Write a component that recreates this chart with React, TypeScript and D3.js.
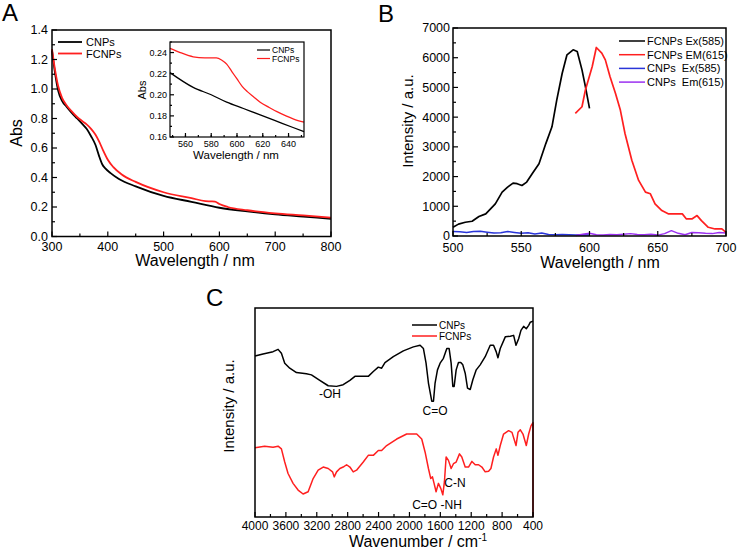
import React from 'react';
import * as d3 from 'd3';

const FONT = "'Liberation Sans', Arial, Helvetica, sans-serif";
const RED = '#ff1f1f';
const BLUE = '#2a35d8';
const PURPLE = '#9b30f0';

// ---------- Panel A: absorbance ----------
const absWlC = [300, 305, 311, 318, 326, 335, 345, 355, 362, 370, 378, 384, 390, 396, 405, 420, 450, 500, 550, 600, 650, 700, 750, 800];
const absCNPs = [1.26, 1.12, 0.99, 0.92, 0.88, 0.84, 0.8, 0.76, 0.73, 0.68, 0.62, 0.55, 0.49, 0.46, 0.43, 0.39, 0.34, 0.275, 0.235, 0.195, 0.17, 0.15, 0.135, 0.12];
const absWlF = [300, 305, 311, 318, 326, 335, 345, 355, 362, 370, 378, 385, 392, 400, 410, 425, 450, 500, 550, 575, 585, 592, 600, 615, 650, 700, 750, 800];
const absFCNPs = [1.27, 1.14, 1.02, 0.94, 0.89, 0.85, 0.81, 0.78, 0.76, 0.73, 0.69, 0.64, 0.58, 0.52, 0.47, 0.42, 0.37, 0.3, 0.26, 0.24, 0.238, 0.236, 0.22, 0.2, 0.178, 0.157, 0.143, 0.128];
const absXTicks = [300, 400, 500, 600, 700, 800];
const absYTicks = [0, 0.2, 0.4, 0.6, 0.8, 1.0, 1.2, 1.4];

// inset
const insWlC = [548, 566, 580, 592, 605, 618, 635, 652];
const insCNPs = [0.221, 0.207, 0.2, 0.193, 0.187, 0.181, 0.173, 0.165];
const insWlF = [548, 556, 566, 575, 584, 588, 592, 596, 600, 604, 608, 613, 618, 625, 631, 638, 644, 652];
const insFCNPs = [0.244, 0.24, 0.236, 0.235, 0.235, 0.233, 0.229, 0.222, 0.215, 0.208, 0.203, 0.198, 0.193, 0.188, 0.184, 0.18, 0.177, 0.174];
const insXTicks = [560, 580, 600, 620, 640];
const insYTicks = [0.16, 0.18, 0.2, 0.22, 0.24];

// ---------- Panel B: fluorescence ----------
const exWl = [500, 504, 509, 514, 519, 524, 531, 536, 540, 544, 547, 550.5, 554, 558, 563, 568, 572.5, 576, 580, 583.5, 588, 591, 594.5, 597, 600];
const exFCNPs = [293, 400, 462, 496, 654, 744, 1082, 1476, 1645, 1780, 1760, 1700, 1815, 2096, 2434, 3110, 3674, 4575, 5477, 6097, 6266, 6210, 5590, 5026, 4294];
const emWl = [589.6, 594.5, 597, 602, 605, 609, 611.6, 615, 619, 622.6, 626, 631, 636, 641, 644.6, 648, 653, 658, 663, 668, 671, 675, 678.8, 682, 687, 692, 697, 700];
const emFCNPs = [4125, 4350, 4914, 5703, 6345, 6153, 5928, 5365, 4801, 4238, 3449, 2547, 1871, 1476, 1420, 1082, 857, 744, 744, 744, 575, 575, 687, 518, 293, 237, 237, 124];
const exCWl = [500, 505, 510, 515, 520, 525, 530, 535, 540, 545, 550, 555, 560, 565, 570, 575, 580, 585, 590, 595, 600];
const exCNPs = [150, 140, 120, 150, 160, 130, 100, 110, 150, 120, 90, 110, 70, 100, 50, 40, 50, 40, 30, 40, 30];
const emCWl = [590, 595, 600, 605, 610, 615, 620, 625, 630, 635, 640, 645, 650, 655, 660, 665, 670, 675, 680, 685, 690, 695, 700];
const emCNPs = [20, 60, 90, 40, 30, 50, 40, 60, 80, 50, 40, 60, 30, 80, 180, 90, 40, 120, 110, 90, 80, 120, 100];
const flXTicks = [500, 550, 600, 650, 700];
const flYTicks = [0, 1000, 2000, 3000, 4000, 5000, 6000, 7000];
const flLegend = ['FCNPs Ex(585)', 'FCNPs EM(615)', 'CNPs  Ex(585)', 'CNPs  Em(615)'];

// ---------- Panel C: FTIR ----------
const irWnC = [4000, 3896, 3766, 3701, 3658, 3615, 3550, 3463, 3334, 3269, 3161, 3052, 2944, 2858, 2771, 2706, 2598, 2533, 2468, 2403, 2360, 2317, 2209, 2079, 1949, 1862, 1819, 1785, 1754, 1711, 1689, 1668, 1637, 1603, 1560, 1516, 1486, 1460, 1438, 1421, 1395, 1365, 1335, 1309, 1278, 1248, 1213, 1179, 1135, 1084, 1019, 954, 911, 876, 854, 824, 759, 694, 651, 620, 586, 556, 521, 487, 456, 435, 400];
const irCNPs = [77.0, 78.0, 79.1, 80.2, 78.3, 73.6, 71.2, 69.1, 68.5, 68.0, 65.4, 62.8, 62.5, 63.3, 65.4, 67.3, 67.3, 67.3, 69.6, 71.7, 71.2, 73.9, 76.7, 79.5, 81.4, 82.2, 80.6, 73.6, 64.1, 55.4, 55.4, 64.1, 70.4, 73.6, 75.9, 80.6, 80.6, 73.6, 62.5, 62.5, 70.4, 73.9, 73.9, 72.8, 68.8, 61.7, 61.0, 65.7, 70.4, 72.8, 76.7, 82.2, 82.2, 79.0, 76.2, 80.6, 86.2, 86.5, 86.9, 82.2, 85.3, 89.3, 91.2, 90.1, 91.7, 93.2, 93.7];
const irWnF = [4000, 3875, 3766, 3701, 3658, 3615, 3572, 3507, 3442, 3377, 3312, 3247, 3182, 3117, 3052, 2996, 2974, 2944, 2901, 2858, 2814, 2771, 2728, 2685, 2598, 2533, 2468, 2403, 2360, 2295, 2165, 2036, 1906, 1841, 1797, 1754, 1724, 1702, 1681, 1655, 1625, 1594, 1568, 1547, 1525, 1495, 1460, 1430, 1395, 1352, 1322, 1278, 1235, 1191, 1148, 1105, 1062, 1019, 975, 945, 911, 876, 854, 824, 781, 716, 672, 620, 594, 564, 530, 487, 456, 426, 400, 400];
const irFCNPs = [33.1, 33.9, 33.4, 33.9, 32.6, 26.3, 20.8, 16.1, 12.9, 11.0, 12.1, 18.4, 22.4, 23.9, 23.2, 21.6, 19.2, 21.6, 23.2, 23.9, 25.0, 23.9, 21.6, 22.4, 26.3, 29.5, 29.5, 31.8, 31.8, 34.2, 37.3, 39.7, 39.7, 37.3, 31.0, 23.2, 18.4, 19.2, 16.1, 12.1, 16.1, 13.7, 10.6, 16.9, 28.7, 27.1, 23.2, 25.5, 26.3, 30.2, 28.7, 23.9, 23.9, 26.6, 25.0, 25.0, 23.9, 21.6, 21.9, 23.2, 28.7, 32.6, 29.5, 34.2, 39.7, 41.3, 40.5, 34.2, 40.5, 41.7, 39.7, 34.2, 39.7, 43.6, 45.2, 0];
const irXTicks = [4000, 3600, 3200, 2800, 2400, 2000, 1600, 1200, 800, 400];
const irLegend = ['CNPs', 'FCNPs'];

type Sc = d3.ScaleLinear<number, number>;

function zip(xs: number[], ys: number[]): [number, number][] {
  return xs.map((x, i) => [x, ys[i]]);
}

function Path({ xs, ys, x, y, color, w = 1.6, curve = d3.curveMonotoneX }: { xs: number[]; ys: number[]; x: Sc; y: Sc; color: string; w?: number; curve?: any }) {
  const line = d3.line<[number, number]>().x((d) => x(d[0])).y((d) => y(d[1])).curve(curve);
  return <path d={line(zip(xs, ys)) || ''} fill="none" stroke={color} strokeWidth={w} strokeLinejoin="round" />;
}

function BottomAxis({ x, y0, majors, minors, fmt, fs, dy, len = 5, mlen = 3 }: { x: Sc; y0: number; majors: number[]; minors: number[]; fmt: (v: number) => string; fs: number; dy: number; len?: number; mlen?: number }) {
  return (
    <g>
      {minors.map((v, i) => (
        <line key={'m' + i} x1={x(v)} x2={x(v)} y1={y0} y2={y0 - mlen} stroke="#000" strokeWidth={1.2} />
      ))}
      {majors.map((v, i) => (
        <g key={i}>
          <line x1={x(v)} x2={x(v)} y1={y0} y2={y0 - len} stroke="#000" strokeWidth={1.2} />
          <text x={x(v)} y={y0 + dy} textAnchor="middle" fontSize={fs} fontFamily={FONT}>{fmt(v)}</text>
        </g>
      ))}
    </g>
  );
}

function LeftAxis({ y, x0, majors, minors, fmt, fs, gap = 4, len = 5, mlen = 3 }: { y: Sc; x0: number; majors: number[]; minors: number[]; fmt: (v: number) => string; fs: number; gap?: number; len?: number; mlen?: number }) {
  return (
    <g>
      {minors.map((v, i) => (
        <line key={'m' + i} x1={x0} x2={x0 + mlen} y1={y(v)} y2={y(v)} stroke="#000" strokeWidth={1.2} />
      ))}
      {majors.map((v, i) => (
        <g key={i}>
          <line x1={x0} x2={x0 + len} y1={y(v)} y2={y(v)} stroke="#000" strokeWidth={1.2} />
          <text x={x0 - gap} y={y(v)} dy="0.35em" textAnchor="end" fontSize={fs} fontFamily={FONT}>{fmt(v)}</text>
        </g>
      ))}
    </g>
  );
}

function range(a: number, b: number, s: number): number[] {
  const out: number[] = [];
  for (let v = a; v <= b + 1e-9; v += s) out.push(+v.toFixed(6));
  return out;
}

export default function App() {
  // Panel A
  const xA = d3.scaleLinear().domain([300, 800]).range([52, 331]);
  const yA = d3.scaleLinear().domain([0, 1.4]).range([236.5, 30]);
  const xI = d3.scaleLinear().domain([548, 652]).range([170, 304]);
  const yI = d3.scaleLinear().domain([0.16, 0.25]).range([137, 42]);
  // Panel B
  const xB = d3.scaleLinear().domain([500, 700]).range([453, 726]);
  const yB = d3.scaleLinear().domain([0, 7000]).range([236, 28]);
  // Panel C
  const xC = d3.scaleLinear().domain([4000, 400]).range([255, 533]);
  const yC = d3.scaleLinear().domain([0, 100]).range([517, 308]);

  const f1 = d3.format('.1f');
  const f2 = d3.format('.2f');
  const fd = (v: number) => String(v);

  return (
    <svg width={738} height={552} style={{ position: 'absolute', left: 0, top: 0, background: '#fff' }} fontFamily={FONT}>
      <rect x={0} y={0} width={738} height={552} fill="#fff" />

      {/* ===== Panel A ===== */}
      <text x={2} y={21} fontSize={24}>A</text>
      <Path xs={absWlC} ys={absCNPs} x={xA} y={yA} color="#000" w={1.8} />
      <Path xs={absWlF} ys={absFCNPs} x={xA} y={yA} color={RED} w={1.8} />
      <rect x={52} y={30} width={279} height={206.5} fill="none" stroke="#000" strokeWidth={1.5} />
      <BottomAxis x={xA} y0={236.5} majors={absXTicks} minors={range(350, 750, 100)} fmt={fd} fs={12.5} dy={14} />
      <LeftAxis y={yA} x0={52} majors={absYTicks} minors={range(0.1, 1.3, 0.2)} fmt={f1} fs={12.5} />
      <text x={195} y={266} textAnchor="middle" fontSize={16}>Wavelength / nm</text>
      <text transform="translate(21.5,133) rotate(-90)" textAnchor="middle" fontSize={16}>Abs</text>
      {/* legend A */}
      <line x1={58} x2={82} y1={42} y2={42} stroke="#000" strokeWidth={1.8} />
      <text x={86} y={46} fontSize={11}>CNPs</text>
      <line x1={58} x2={82} y1={53.5} y2={53.5} stroke={RED} strokeWidth={1.8} />
      <text x={86} y={57.5} fontSize={11}>FCNPs</text>

      {/* inset */}
      <rect x={170} y={42} width={134} height={95} fill="#fff" />
      <Path xs={insWlC} ys={insCNPs} x={xI} y={yI} color="#000" w={1.3} />
      <Path xs={insWlF} ys={insFCNPs} x={xI} y={yI} color={RED} w={1.3} />
      <rect x={170} y={42} width={134} height={95} fill="none" stroke="#000" strokeWidth={1.2} />
      <BottomAxis x={xI} y0={137} majors={insXTicks} minors={range(550, 650, 10)} fmt={fd} fs={9} dy={9.5} len={4} mlen={2} />
      <LeftAxis y={yI} x0={170} majors={insYTicks} minors={range(0.17, 0.25, 0.02)} fmt={f2} fs={9} gap={3} len={4} mlen={2} />
      <text x={236} y={159} textAnchor="middle" fontSize={11.5}>Wavelength / nm</text>
      <text transform="translate(145.5,90) rotate(-90)" textAnchor="middle" fontSize={11}>Abs</text>
      <line x1={257} x2={270} y1={50} y2={50} stroke="#000" strokeWidth={1.2} />
      <text x={272} y={53} fontSize={8.5}>CNPs</text>
      <line x1={257} x2={270} y1={58.5} y2={58.5} stroke={RED} strokeWidth={1.2} />
      <text x={272} y={61.5} fontSize={8.5}>FCNPs</text>

      {/* ===== Panel B ===== */}
      <text x={378} y={22} fontSize={24}>B</text>
      <Path xs={exCWl} ys={exCNPs} x={xB} y={yB} color={BLUE} w={1.5} curve={d3.curveLinear} />
      <Path xs={emCWl} ys={emCNPs} x={xB} y={yB} color={PURPLE} w={1.5} curve={d3.curveLinear} />
      <Path xs={exWl} ys={exFCNPs} x={xB} y={yB} color="#000" w={1.7} curve={d3.curveLinear} />
      <Path xs={emWl} ys={emFCNPs} x={xB} y={yB} color={RED} w={1.7} curve={d3.curveLinear} />
      <rect x={453} y={28} width={273} height={208} fill="none" stroke="#000" strokeWidth={1.5} />
      <BottomAxis x={xB} y0={236} majors={flXTicks} minors={range(525, 675, 50)} fmt={fd} fs={12.5} dy={16} />
      <LeftAxis y={yB} x0={453} majors={flYTicks} minors={range(500, 6500, 1000)} fmt={fd} fs={12.5} gap={3} />
      <text x={600} y={268} textAnchor="middle" fontSize={16}>Wavelength / nm</text>
      <text transform="translate(413,121) rotate(-90)" textAnchor="middle" fontSize={15}>Intensity / a.u.</text>
      {flLegend.map((t, i) => (
        <g key={t}>
          <line x1={619} x2={645} y1={41 + i * 13.7} y2={41 + i * 13.7} stroke={[ '#000', RED, BLUE, PURPLE ][i]} strokeWidth={1.5} />
          <text x={647} y={45 + i * 13.7} fontSize={11} style={{ whiteSpace: 'pre' }}>{t}</text>
        </g>
      ))}

      {/* ===== Panel C ===== */}
      <text x={206} y={306} fontSize={24}>C</text>
      <Path xs={irWnC} ys={irCNPs} x={xC} y={yC} color="#000" w={1.5} curve={d3.curveLinear} />
      <Path xs={irWnF} ys={irFCNPs} x={xC} y={yC} color={RED} w={1.5} curve={d3.curveLinear} />
      <rect x={255} y={308} width={278} height={209} fill="none" stroke="#000" strokeWidth={1.5} />
      <BottomAxis x={xC} y0={517} majors={irXTicks} minors={range(600, 3800, 400)} fmt={fd} fs={12} dy={13} />
      <text x={418} y={547} textAnchor="middle" fontSize={16}>
        Wavenumber / cm<tspan dy={-6} fontSize={10}>-1</tspan>
      </text>
      <text transform="translate(234,406) rotate(-90)" textAnchor="middle" fontSize={15}>Intensity / a.u.</text>
      {irLegend.map((t, i) => (
        <g key={t}>
          <line x1={412} x2={437} y1={325 + i * 11} y2={325 + i * 11} stroke={i === 0 ? '#000' : RED} strokeWidth={1.5} />
          <text x={439} y={328.5 + i * 11} fontSize={10}>{t}</text>
        </g>
      ))}
      <text x={330} y={398} textAnchor="middle" fontSize={12}>-OH</text>
      <text x={435} y={415} textAnchor="middle" fontSize={12}>C=O</text>
      <text x={455} y={487} textAnchor="middle" fontSize={12}>C-N</text>
      <text x={437} y={509} textAnchor="middle" fontSize={12}>C=O -NH</text>
    </svg>
  );
}
